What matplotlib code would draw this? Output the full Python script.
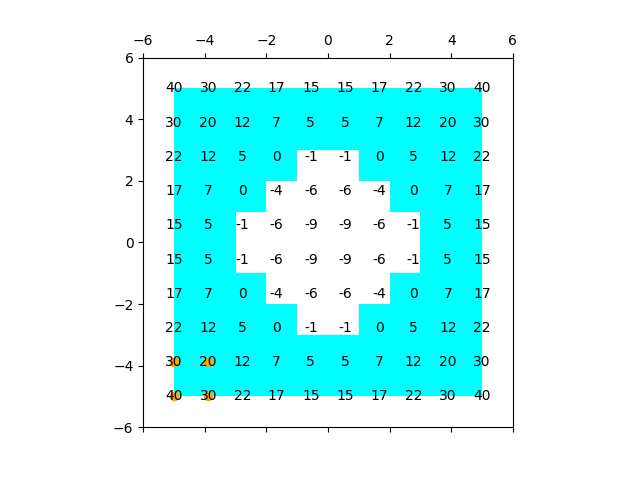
import numpy as np
import matplotlib
matplotlib.use("Agg")
import matplotlib.pyplot as plt
from matplotlib.colors import ListedColormap

# label positions along each axis
coords = [-5.0, -3.89, -2.78, -1.67, -0.56, 0.56, 1.67, 2.78, 3.89, 5.0]
# cell edges for the shaded mask
edges = [-5, -4, -3, -2, -1, 0, 1, 2, 3, 4, 5]

# grid values, bottom row first
values = [
    [40, 30, 22, 17, 15, 15, 17, 22, 30, 40],
    [30, 20, 12, 7, 5, 5, 7, 12, 20, 30],
    [22, 12, 5, 0, -1, -1, 0, 5, 12, 22],
    [17, 7, 0, -4, -6, -6, -4, 0, 7, 17],
    [15, 5, -1, -6, -9, -9, -6, -1, 5, 15],
    [15, 5, -1, -6, -9, -9, -6, -1, 5, 15],
    [17, 7, 0, -4, -6, -6, -4, 0, 7, 17],
    [22, 12, 5, 0, -1, -1, 0, 5, 12, 22],
    [30, 20, 12, 7, 5, 5, 7, 12, 20, 30],
    [40, 30, 22, 17, 15, 15, 17, 22, 30, 40],
]

# highlighted points
dots_x = [-5.0, -3.89, -5.0, -3.89]
dots_y = [-5.0, -5.0, -3.89, -3.89]

z = np.array(values)
mask = (z >= 0).astype(int)

fig, ax = plt.subplots(figsize=(6.4, 4.8), dpi=100)
ax.pcolormesh(edges, edges, mask, cmap=ListedColormap(["white", "cyan"]), vmin=0, vmax=1)
ax.scatter(dots_x, dots_y, color="orange")

for i, yv in enumerate(coords):
    for j, xv in enumerate(coords):
        ax.text(xv, yv, str(values[i][j]), ha="center", va="center")

ax.set_xlim(-6, 6)
ax.set_ylim(-6, 6)
ax.set_xticks([-6, -4, -2, 0, 2, 4, 6])
ax.set_yticks([-6, -4, -2, 0, 2, 4, 6])
ax.set_aspect("equal")
ax.tick_params(top=True, labeltop=True, bottom=True, labelbottom=False)

fig.savefig("out.png")
